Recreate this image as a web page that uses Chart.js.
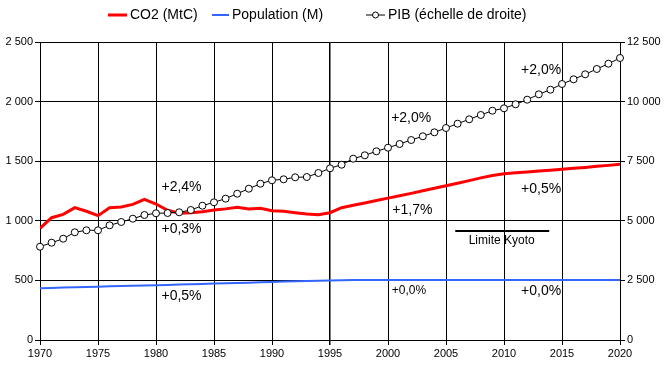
<!DOCTYPE html>
<html>
<head>
<meta charset="utf-8">
<script src="https://cdn.jsdelivr.net/npm/chart.js@4"></script>
<style>
  html, body { margin: 0; padding: 0; background: #fff; }
  #wrap { width: 664px; height: 367px; }
</style>
</head>
<body>
<div id="wrap"><canvas id="mainChart" width="664" height="367"></canvas></div>
<script>
// Data
const years = [1970, 1971, 1972, 1973, 1974, 1975, 1976, 1977, 1978, 1979,
  1980, 1981, 1982, 1983, 1984, 1985, 1986, 1987, 1988, 1989,
  1990, 1991, 1992, 1993, 1994, 1995, 1996, 1997, 1998, 1999,
  2000, 2001, 2002, 2003, 2004, 2005, 2006, 2007, 2008, 2009,
  2010, 2011, 2012, 2013, 2014, 2015, 2016, 2017, 2018, 2019, 2020];

// CO2 (MtC), left axis
const co2 = [937, 1026, 1054, 1110, 1080, 1043, 1110, 1116, 1138, 1180,
  1141, 1088, 1063, 1068, 1076, 1090, 1100, 1113, 1100, 1105,
  1085, 1080, 1068, 1058, 1051, 1068, 1110, 1130, 1150, 1170,
  1190, 1210, 1230, 1252, 1273, 1294, 1315, 1337, 1360, 1380,
  1395, 1403, 1410, 1418, 1425, 1432, 1440, 1448, 1457, 1465, 1474];

// Population (M), left axis
const population = [435, 437, 440, 442, 445, 447, 450, 452, 455, 458,
  460, 462, 465, 468, 470, 473, 476, 478, 481, 484,
  487, 490, 493, 495, 498, 500, 502, 503, 503, 504,
  504, 504, 504, 504, 504, 504, 504, 504, 503, 503,
  503, 503, 503, 503, 503, 503, 503, 503, 503, 503, 503];

// PIB, right axis
const pib = [3914, 4081, 4249, 4518, 4601, 4601, 4811, 4950, 5088, 5243,
  5315, 5327, 5357, 5453, 5633, 5776, 5930, 6137, 6347, 6556,
  6699, 6741, 6825, 6837, 7005, 7202, 7353, 7605, 7747, 7915,
  8066, 8221, 8389, 8545, 8712, 8893, 9073, 9258, 9438, 9618,
  9719, 9887, 10080, 10306, 10499, 10738, 10935, 11145, 11368, 11590, 11829];

// Kyoto limit segment (year, MtC)
const kyotoYears = [2005.8, 2013.9];
const kyotoValue = 914;

// Text notes: [text, year, value on left axis, small?]
const notes = [
  ["+2,4%", 1982.2, 1284, false],
  ["+0,3%", 1982.2, 931, false],
  ["+0,5%", 1982.2, 369, false],
  ["+2,0%", 2002.0, 1862, false],
  ["+1,7%", 2002.1, 1091, false],
  ["+0,0%", 2001.8, 411, true],
  ["+2,0%", 2013.2, 2265, false],
  ["+0,5%", 2013.2, 1267, false],
  ["+0,0%", 2013.2, 411, false],
  ["Limite Kyoto", 2009.8, 830, true]
];

const FONT = "'Liberation Sans', Arial, sans-serif";

let toXY = (vals) => years.map((yr, i) => ({ x: yr, y: vals[i] }));

let fmt = (v) => {
  let s = String(v);
  if (v >= 1000) s = s.slice(0, s.length - 3) + " " + s.slice(-3);
  return s;
};

// notes and Kyoto label drawn after the lines
const notesPlugin = {
  id: "notes",
  afterDatasetsDraw(chart) {
    const ctx = chart.ctx;
    const xs = chart.scales.x, ys = chart.scales.y;
    ctx.save();
    ctx.fillStyle = "#000";
    ctx.textAlign = "center";
    ctx.textBaseline = "middle";
    notes.forEach((n) => {
      ctx.font = (n[3] ? "12px " : "14px ") + FONT;
      ctx.fillText(n[0], xs.getPixelForValue(n[1]), ys.getPixelForValue(n[2]));
    });
    ctx.restore();
  },
  afterDraw(chart) {
    // legend
    const ctx = chart.ctx;
    const y = 15;
    ctx.save();
    ctx.font = "14px " + FONT;
    ctx.textBaseline = "middle";
    ctx.fillStyle = "#000";

    ctx.strokeStyle = "#ff0000";
    ctx.lineWidth = 3;
    ctx.beginPath(); ctx.moveTo(108, y); ctx.lineTo(127, y); ctx.stroke();
    ctx.fillText("CO2 (MtC)", 130, y);

    ctx.strokeStyle = "#3366ff";
    ctx.lineWidth = 2;
    ctx.beginPath(); ctx.moveTo(212, y); ctx.lineTo(229, y); ctx.stroke();
    ctx.fillText("Population (M)", 232, y);

    ctx.strokeStyle = "#000";
    ctx.lineWidth = 1;
    ctx.beginPath(); ctx.moveTo(366, y); ctx.lineTo(385, y); ctx.stroke();
    ctx.fillStyle = "#fff";
    ctx.beginPath(); ctx.arc(375.5, y, 3, 0, 2 * Math.PI); ctx.fill(); ctx.stroke();
    ctx.fillStyle = "#000";
    ctx.fillText("PIB (échelle de droite)", 388, y);
    ctx.restore();
  }
};

const configData = {
  datasets: [
    {
      label: "PIB (échelle de droite)",
      data: toXY(pib),
      yAxisID: "y2",
      borderColor: "#000",
      borderWidth: 1,
      pointRadius: 3.5,
      pointBackgroundColor: "#fff",
      pointBorderColor: "#000",
      pointBorderWidth: 1,
      clip: false,
      order: 0
    },
    {
      label: "CO2 (MtC)",
      data: toXY(co2),
      yAxisID: "y",
      borderColor: "#ff0000",
      borderWidth: 3,
      pointRadius: 0,
      order: 1
    },
    {
      label: "Population (M)",
      data: toXY(population),
      yAxisID: "y",
      borderColor: "#3366ff",
      borderWidth: 2,
      pointRadius: 0,
      order: 2
    },
    {
      label: "Limite Kyoto",
      data: kyotoYears.map((yr) => ({ x: yr, y: kyotoValue })),
      yAxisID: "y",
      borderColor: "#000",
      borderWidth: 2,
      pointRadius: 0,
      order: 3
    }
  ]
};

let config = {
  type: "line",
  data: configData,
  options: {
    responsive: false,
    animation: false,
    layout: { padding: { top: 42, left: 0, right: 0, bottom: 0 } },
    plugins: {
      legend: { display: false },
      tooltip: { enabled: false }
    },
    scales: {
      x: {
        type: "linear",
        min: 1970,
        max: 2020,
        afterFit: (s) => { s.height = 27; },
        ticks: {
          stepSize: 5,
          color: "#000",
          font: { family: FONT, size: 11 },
          padding: 2,
          maxRotation: 0,
          callback: (v) => String(v)
        },
        grid: {
          color: "#000",
          lineWidth: (c) => (c.tick && c.tick.value === 1995 ? 1.5 : 1),
          tickLength: 5
        },
        border: { color: "#000", width: 1 }
      },
      y: {
        position: "left",
        min: 0,
        max: 2500,
        afterFit: (s) => { s.width = 40; },
        ticks: {
          stepSize: 500,
          color: "#000",
          font: { family: FONT, size: 11 },
          padding: 2,
          callback: (v) => fmt(v)
        },
        grid: { color: "#000", lineWidth: 1, tickLength: 5 },
        border: { color: "#000", width: 1 }
      },
      y2: {
        position: "right",
        min: 0,
        max: 12500,
        afterFit: (s) => { s.width = 44; },
        ticks: {
          stepSize: 2500,
          color: "#000",
          font: { family: FONT, size: 11 },
          padding: 2,
          callback: (v) => fmt(v)
        },
        grid: { drawOnChartArea: false, color: "#000", tickLength: 5 },
        border: { color: "#000", width: 1 }
      }
    }
  },
  plugins: [notesPlugin]
};

// Output chart to page
let mainChart = new Chart(document.getElementById("mainChart"), config);
</script>
</body>
</html>
